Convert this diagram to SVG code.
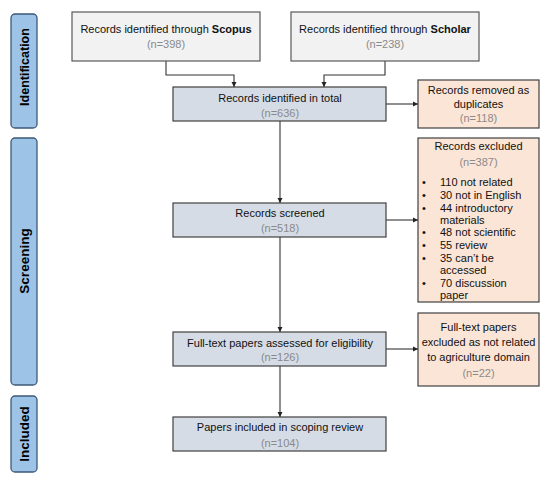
<svg xmlns="http://www.w3.org/2000/svg" width="550" height="477" viewBox="0 0 550 477">
<style>
text{font-family:"Liberation Sans",Arial,sans-serif;font-size:11px;fill:#111}
.c{text-anchor:middle}
.n{fill:#8a8a8a}
.b{font-weight:bold}
.side{fill:#9dc3e6;stroke:#3d5a7a;stroke-width:1.3}
.st{font-weight:bold;font-size:13.5px;fill:#000;text-anchor:middle}
.src{fill:#f2f2f2;stroke:#595959;stroke-width:1.2}
.main{fill:#d6dce5;stroke:#404040;stroke-width:1.2}
.ex{fill:#fbe5d6;stroke:#404040;stroke-width:1.2}
.ln{fill:none;stroke:#333;stroke-width:1.1}
</style>
<defs>
<marker id="ah" markerWidth="6" markerHeight="6" refX="5" refY="3" orient="auto" markerUnits="userSpaceOnUse">
<path d="M0,0.5 L5,3 L0,5.5 Z" fill="#222"/>
</marker>
</defs>

<g id="stage-identification">
<rect class="side" x="11" y="14" width="26" height="114" rx="4"/>
<text class="st" style="font-size:12.5px" transform="translate(28.5,67) rotate(-90)">Identification</text>
</g>
<g id="stage-screening">
<rect class="side" x="11" y="138" width="26" height="247" rx="4"/>
<text class="st" transform="translate(29,261) rotate(-90)">Screening</text>
</g>
<g id="stage-included">
<rect class="side" x="11" y="396" width="26" height="76" rx="4"/>
<text class="st" transform="translate(29,434) rotate(-90)">Included</text>
</g>

<g id="connectors">
<polyline class="ln" points="166,61 166,75 234,75 234,87" marker-end="url(#ah)"/>
<polyline class="ln" points="385,61 385,75 324,75 324,87" marker-end="url(#ah)"/>
<line class="ln" x1="386" y1="104" x2="418" y2="104" marker-end="url(#ah)"/>
<line class="ln" x1="280" y1="121" x2="280" y2="203" marker-end="url(#ah)"/>
<line class="ln" x1="386" y1="220" x2="418" y2="220" marker-end="url(#ah)"/>
<line class="ln" x1="280" y1="237" x2="280" y2="332" marker-end="url(#ah)"/>
<line class="ln" x1="386" y1="349" x2="418" y2="349" marker-end="url(#ah)"/>
<line class="ln" x1="280" y1="366" x2="280" y2="417" marker-end="url(#ah)"/>
</g>

<g id="scopus">
<rect class="src" x="72" y="12" width="188" height="49"/>
<text class="c" x="166" y="33">Records identified through <tspan class="b">Scopus</tspan></text>
<text class="c n" x="166" y="48">(n=398)</text>
</g>
<g id="scholar">
<rect class="src" x="291" y="12" width="188" height="49"/>
<text class="c" x="385" y="33">Records identified through <tspan class="b">Scholar</tspan></text>
<text class="c n" x="385" y="48">(n=238)</text>
</g>
<g id="total">
<rect class="main" x="173" y="87" width="213" height="34"/>
<text class="c" x="280" y="102">Records identified in total</text>
<text class="c n" x="280" y="117">(n=636)</text>
</g>
<g id="duplicates">
<rect class="ex" x="418" y="80" width="121" height="48"/>
<text class="c" x="478.5" y="94">Records removed as</text>
<text class="c" x="478.5" y="108">duplicates</text>
<text class="c n" x="478.5" y="122">(n=118)</text>
</g>
<g id="screened">
<rect class="main" x="173" y="203" width="213" height="34"/>
<text class="c" x="280" y="217">Records screened</text>
<text class="c n" x="280" y="232">(n=518)</text>
</g>
<g id="excluded">
<rect class="ex" x="418" y="138" width="121" height="164"/>
<text class="c" x="478.5" y="150">Records excluded</text>
<text class="c n" x="478.5" y="166">(n=387)</text>
<text x="422" y="186">•</text><text x="440" y="186">110 not related</text>
<text x="422" y="199">•</text><text x="440" y="199">30 not in English</text>
<text x="422" y="211.5">•</text><text x="440" y="211.5">44 introductory</text>
<text x="440" y="224">materials</text>
<text x="422" y="236">•</text><text x="440" y="236">48 not scientific</text>
<text x="422" y="249">•</text><text x="440" y="249">55 review</text>
<text x="422" y="261.5">•</text><text x="440" y="261.5">35 can’t be</text>
<text x="440" y="273.5">accessed</text>
<text x="422" y="286.5">•</text><text x="440" y="286.5">70 discussion</text>
<text x="440" y="298.5">paper</text>
</g>
<g id="fulltext">
<rect class="main" x="173" y="332" width="213" height="34"/>
<text class="c" x="280" y="347">Full-text papers assessed for eligibility</text>
<text class="c n" x="280" y="361">(n=126)</text>
</g>
<g id="fulltext-excluded">
<rect class="ex" x="418" y="313" width="121" height="73"/>
<text class="c" x="478.5" y="331">Full-text papers</text>
<text class="c" x="478.5" y="346">excluded as not related</text>
<text class="c" x="478.5" y="361">to agriculture domain</text>
<text class="c n" x="478.5" y="377">(n=22)</text>
</g>
<g id="included">
<rect class="main" x="173" y="417" width="213" height="34"/>
<text class="c" x="280" y="431">Papers included in scoping review</text>
<text class="c n" x="280" y="447">(n=104)</text>
</g>
</svg>
